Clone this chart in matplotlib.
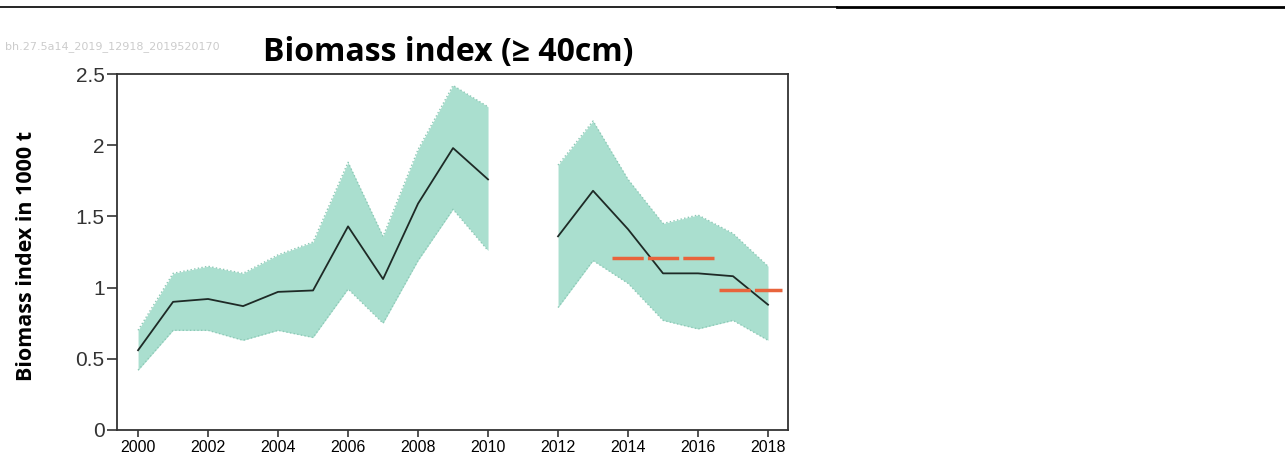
# plot.py
# Biomass index (>= 40cm) with confidence band and advice levels

import numpy as np
import matplotlib
matplotlib.use('agg')
import matplotlib.pyplot as plt
from matplotlib.lines import Line2D

### Data ###
years_a = [2000, 2001, 2002, 2003, 2004, 2005, 2006, 2007, 2008, 2009, 2010]
index_a = [0.56, 0.90, 0.92, 0.87, 0.97, 0.98, 1.43, 1.06, 1.59, 1.98, 1.76]
upper_a = [0.70, 1.10, 1.15, 1.10, 1.23, 1.32, 1.88, 1.36, 1.97, 2.42, 2.27]
lower_a = [0.42, 0.70, 0.70, 0.63, 0.70, 0.65, 0.99, 0.75, 1.19, 1.55, 1.26]

years_b = [2012, 2013, 2014, 2015, 2016, 2017, 2018]
index_b = [1.36, 1.68, 1.41, 1.10, 1.10, 1.08, 0.88]
upper_b = [1.86, 2.17, 1.76, 1.45, 1.51, 1.38, 1.15]
lower_b = [0.86, 1.19, 1.03, 0.77, 0.71, 0.77, 0.63]

# advice levels (start, end, value)
adv_x = [[2013.55, 2016.45], [2016.6, 2018.4]]
adv_y = [1.21, 0.98]

xticks = list(range(2000, 2019, 2))
yticks = [0, 0.5, 1, 1.5, 2, 2.5]
ytick_labels = ['0', '0.5', '1', '1.5', '2', '2.5']

### Plot ###
fig = plt.figure(figsize=(12.85, 4.53), dpi=100)
ax = fig.add_axes([0.0911, 0.0508, 0.5221, 0.7858])

band_col = '#aadfcf'
edge_col = '#8cc9b6'
for yrs, idx, up, lo in [(years_a, index_a, upper_a, lower_a),
                         (years_b, index_b, upper_b, lower_b)]:
    ax.fill_between(yrs, lo, up, color=band_col, lw=0)
    ax.plot(yrs, up, color=edge_col, lw=1, ls=':')
    ax.plot(yrs, lo, color=edge_col, lw=1, ls=':')
    ax.plot(yrs, idx, color='#1e2a26', lw=1.3)

for xs, yv in zip(adv_x, adv_y):
    ax.plot(xs, [yv, yv], color='#e8643c', lw=2.5, ls=(0, (9, 1.2)))

ax.set_xlim(1999.4, 2018.57)
ax.set_ylim(0, 2.5)
ax.set_xticks(xticks)
ax.set_xticklabels([str(x) for x in xticks], fontsize=11.5, family='Liberation Sans')
ax.set_yticks(yticks)
ax.set_yticklabels(ytick_labels, fontsize=15, family='Liberation Sans', color='#333333')
ax.tick_params(direction='out', width=1.2, color='#333333')
ax.tick_params(axis='y', length=7, pad=2)
ax.tick_params(axis='x', length=5, pad=2)
for sp in ax.spines.values():
    sp.set_color('#333333')
    sp.set_linewidth(1.3)

ax.set_ylabel('Biomass index in 1000 t', fontsize=15.5, fontweight='bold',
              family='Open Sans')
ax.yaxis.set_label_coords(-0.12, 0.49)

fig.text(0.349, 0.884, 'Biomass index (\u2265 40cm)', fontsize=23, fontweight='bold',
         family=['Open Sans', 'Noto Sans', 'DejaVu Sans'], ha='center', va='center')
fig.text(0.004, 0.897, 'bh.27.5a14_2019_12918_2019520170', fontsize=8,
         color='#cccccc', ha='left', va='center')

# separator lines at the top
fig.add_artist(Line2D([0, 0.651], [0.984, 0.984], color='black', lw=1.2,
                      transform=fig.transFigure))
fig.add_artist(Line2D([0.651, 1.0], [0.984, 0.984], color='black', lw=2,
                      transform=fig.transFigure))

plt.savefig('out.png', dpi=100)
